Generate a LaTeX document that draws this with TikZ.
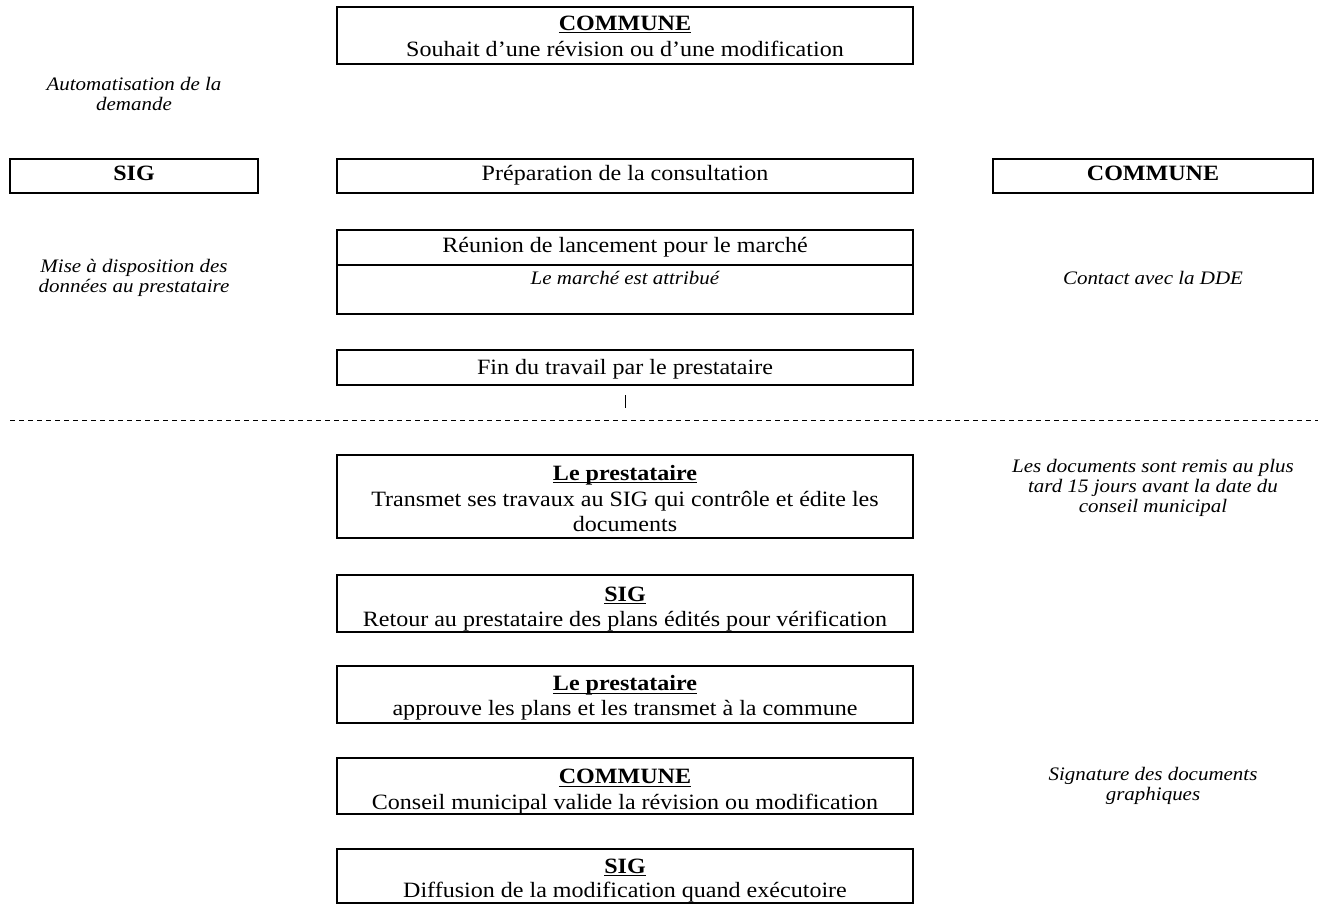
\documentclass[tikz,border=0pt]{standalone}
\usepackage{fontspec}
\setmainfont{Liberation Serif}[FakeStretch=1.1]
\newcommand\hdul[1]{\setbox0\hbox{#1}\rlap{\rule[-2.6pt]{\wd0}{1.1pt}}\box0}
\begin{document}
\begin{tikzpicture}[x=0.75pt,y=-0.75pt,
  box/.style={draw, line width=1.5pt, inner sep=0pt, outer sep=0pt, minimum width=432pt},
  txt/.style={anchor=base, inner sep=0pt, font=\fontsize{16.4}{19}\selectfont},
  hd/.style={anchor=base, inner sep=0pt, font=\fontsize{16.4}{19}\selectfont\bfseries},
  lbl/.style={anchor=base, inner sep=0pt, font=\fontsize{14.3}{16}\selectfont\itshape},
  thin/.style={line width=0.75pt}]
\useasboundingbox (0,0) rectangle (1326,904);

% top box
\node[box, minimum height=42.75pt] (b1) at (625,35.5) {};
\node[hd] (b1h) at (625,30) {\hdul{COMMUNE}};
\node[txt] (b1t) at (625,56) {Souhait d’une révision ou d’une modification};

\node[lbl] (a1) at (134,90) {Automatisation de la};
\node[lbl] (a2) at (134,110) {demande};

% row 2
\node[box, minimum width=186pt, minimum height=25.5pt] (sig) at (134,176) {};
\node[hd] (sigt) at (134,180.5) {SIG};
\node[box, minimum height=25.5pt] (prep) at (625,176) {};
\node[txt] (prept) at (625,180.5) {Préparation de la consultation};
\node[box, minimum width=240pt, minimum height=25.5pt] (com) at (1153,176) {};
\node[hd] (comt) at (1153,180.5) {COMMUNE};

% reunion
\node[box, minimum height=63pt] (reu) at (625,272) {};
\draw[line width=1.5pt] ([yshift=-26.25pt]reu.north west) -- ([yshift=-26.25pt]reu.north east);
\node[txt] (reut) at (625,252.5) {Réunion de lancement pour le marché};
\node[lbl] (reum) at (625,284) {Le marché est attribué};

\node[lbl] (m1) at (134,272) {Mise à disposition des};
\node[lbl] (m2) at (134,292) {données au prestataire};
\node[lbl] (c1) at (1153,284) {Contact avec la DDE};

% fin
\node[box, minimum height=26.25pt] (fin) at (625,367.5) {};
\node[txt] (fint) at (625,374.5) {Fin du travail par le prestataire};

\coordinate (t1) at (625,395);
\coordinate (t2) at (625,408);
\draw[thin] (t1) -- (t2);

\coordinate (dl) at (10,420);
\coordinate (dr) at (1318,420);
\draw[thin, dash pattern=on 3.75pt off 3pt] (dl) -- (dr);

% prestataire 1
\node[box, minimum height=62.25pt] (p1) at (625,496.5) {};
\node[hd] (p1h) at (625,480) {\hdul{Le prestataire}};
\node[txt] (p1t) at (625,506) {Transmet ses travaux au SIG qui contrôle et édite les};
\node[txt] (p1u) at (625,531.5) {documents};

\node[lbl] (d1) at (1153,472) {Les documents sont remis au plus};
\node[lbl] (d2) at (1153,492) {tard 15 jours avant la date du};
\node[lbl] (d3) at (1153,512) {conseil municipal};

% sig 2
\node[box, minimum height=42.75pt] (s2) at (625,603.5) {};
\node[hd] (s2h) at (625,601) {\hdul{SIG}};
\node[txt] (s2t) at (625,626.5) {Retour au prestataire des plans édités pour vérification};

% prestataire 2
\node[box, minimum height=42.75pt] (p2) at (625,694.5) {};
\node[hd] (p2h) at (625,690.5) {\hdul{Le prestataire}};
\node[txt] (p2t) at (625,715) {approuve les plans et les transmet à la commune};

% commune 2
\node[box, minimum height=42pt] (c2) at (625,786) {};
\node[hd] (c2h) at (625,783.5) {\hdul{COMMUNE}};
\node[txt] (c2t) at (625,809) {Conseil municipal valide la révision ou modification};

\node[lbl] (g1) at (1153,780) {Signature des documents};
\node[lbl] (g2) at (1153,800) {graphiques};

% sig 3
\node[box, minimum height=40.5pt] (s3) at (625,876) {};
\node[hd] (s3h) at (625,873) {\hdul{SIG}};
\node[txt] (s3t) at (625,897) {Diffusion de la modification quand exécutoire};
\end{tikzpicture}
\end{document}
